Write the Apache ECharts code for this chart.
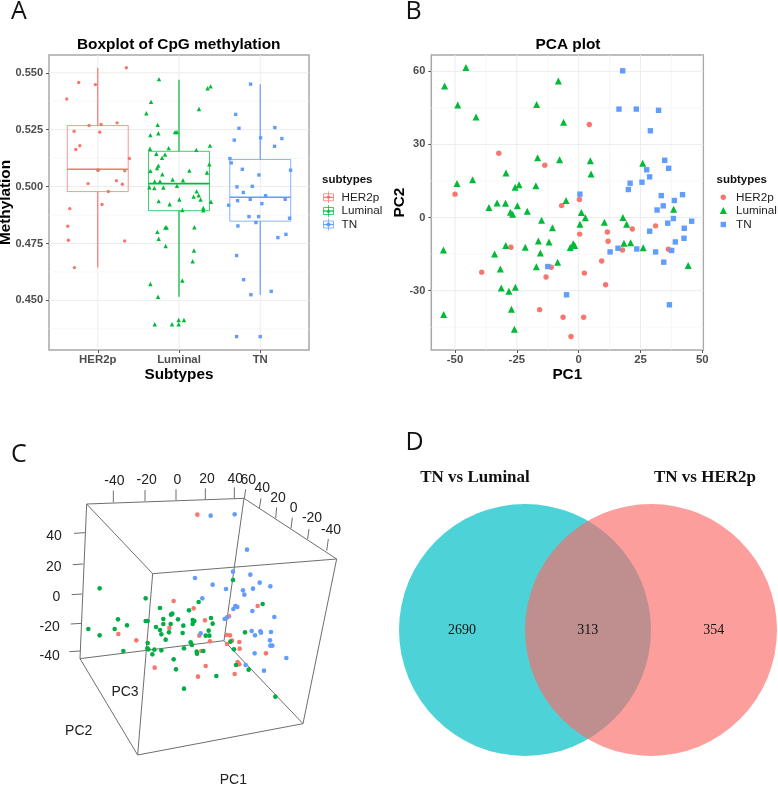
<!DOCTYPE html>
<html><head><meta charset="utf-8">
<style>html,body{margin:0;padding:0;background:#fff}#c{width:778px;height:786px}</style>
<script src="https://cdn.jsdelivr.net/npm/echarts@6/dist/echarts.min.js"></script>
</head><body><div id="c"></div>
<script>
const subtypes=['HER2p','Luminal','TN'];
const colors=['#F8766D','#00BA38','#619CFF'];
// Panel A
const boxStats=[[1,.4644,.4978,.5076,.5268,.5522],[2,.4516,.4894,.5013,.5155,.5469],[3,.4525,.4848,.4953,.5119,.5450]];
const aHer=[[1.352,.5522],[.766,.5457],[.971,.5448],[.619,.5385],[.709,.5243],[.893,.5268],[1.041,.5273],[1.238,.528],[1.025,.5239],[.779,.5179],[.73,.5163],[1.389,.5123],[1.008,.5073],[1,.5072],[1.332,.5069],[.881,.5013],[1.23,.5026],[1.303,.501],[1.131,.4978],[1.053,.4921],[.656,.4903],[.631,.4826],[.639,.4764],[1.332,.4761],[.713,.4644]];
const aLum=[[1.754,.5472],[2.389,.544],[2.352,.5432],[1.656,.5372],[2.246,.5341],[1.598,.5322],[1.738,.5271],[1.746,.5234],[1.648,.5226],[1.951,.5239],[1.975,.524],[1.643,.5166],[1.873,.5169],[2.213,.5161],[2.381,.518],[1.721,.5144],[1.828,.5141],[1.791,.5126],[1.746,.5092],[1.73,.5081],[1.648,.5069],[2.127,.507],[2.344,.5062],[2.373,.5098],[1.795,.5054],[1.922,.5031],[2.049,.5028],[1.701,.5022],[1.766,.5023],[1.635,.4997],[1.697,.4993],[1.807,.4996],[1.975,.5003],[2.217,.4979],[2.18,.4956],[2.242,.4962],[2.266,.4943],[2.004,.4943],[1.75,.4936],[1.885,.4922],[2.393,.4933],[2.299,.4906],[2.299,.4896],[2.041,.4897],[1.832,.482],[1.848,.482],[2.189,.4821],[1.734,.4801],[1.75,.4771],[1.836,.4739],[2.184,.4719],[2.168,.4672],[2.041,.4587],[1.648,.4572],[1.742,.4516],[1.996,.4414],[2.061,.4414],[1.701,.4395],[1.914,.4395],[1.996,.4395]];
const aTn=[[2.881,.545],[2.697,.5317],[2.738,.5256],[3.18,.5259],[2.68,.5204],[3.004,.5214],[3.266,.5211],[3.176,.5177],[2.627,.5123],[2.643,.5104],[2.779,.5076],[3.373,.5072],[2.984,.5051],[2.713,.4999],[2.902,.5001],[2.791,.4974],[3.066,.496],[2.877,.4944],[2.721,.4938],[3.307,.4944],[3.02,.4925],[2.611,.4918],[2.861,.4868],[2.98,.4868],[3.361,.4861],[2.947,.4842],[2.725,.4827],[3.316,.479],[3.217,.4776],[2.709,.4697],[2.795,.4591],[2.885,.4525],[3.135,.454],[2.709,.4341],[3,.4341]];
const aXTicks=[1,2,3];
const aYTicks=[.45,.475,.5,.525,.55];
const aYMinor=[.4375,.4625,.4875,.5125,.5375];
// Panel B
const bHer=[[4.3,38.2],[-32.3,26.4],[-13.7,21.5],[-50,9.6],[.3,7.4],[-6.9,4.9],[11.6,-5.9],[21.7,-4.7],[.4,-6.8],[11.9,-9.7],[31.1,-3.4],[-27.4,-12.2],[17.7,-13.3],[36.3,-13],[9.3,-17.8],[-39.2,-22.4],[-11.1,-20.4],[-13.2,-24.4],[2.3,-22.8],[10.9,-27.6],[-15.8,-37.8],[-6.3,-40.9],[2,-40.9],[-3.1,-48.8]];
const bLum=[[-45.6,61.6],[-54.2,54],[-8.2,56],[-48.9,46.2],[-17,46.4],[-41.5,41.3],[-6.1,39.1],[-16.6,24.5],[-7.7,23.7],[4.7,23.3],[25.9,22.3],[-29.4,18.3],[5,17.9],[-49.2,14],[-42.9,15.5],[-25.7,12.4],[-24.1,13.5],[-17.3,13],[-36.3,4.1],[-33,6],[-29.6,5.9],[-24.8,4.8],[-27.6,2.2],[-26.7,1.4],[-20.8,2.6],[-5.1,7],[1.1,2.1],[2.7,-.1],[.5,-2.7],[-15,-1.1],[-10.6,-4.2],[10.4,-1.9],[17.9,0],[19.4,-2.7],[38.4,3.4],[-16.3,-9.6],[-12,-10],[-29.5,-11.5],[-21.6,-12.2],[-2.2,-10.8],[-1.6,-11.5],[-3.4,-12.3],[18.3,-10.5],[21,-10.3],[26.1,-12.4],[-54.7,-13.3],[-34,-15],[-15.5,-14.5],[-8.5,-18.3],[-17.1,-20.2],[-31.7,-21.1],[44.3,-19.7],[-31.3,-28.9],[-25.6,-28.6],[-28.2,-30.2],[-27.2,-37.6],[-54.6,-39.8],[-26,-45.8]];
const bTn=[[17.8,60.2],[16.3,44.5],[23.3,44.5],[32.3,44],[29,35.6],[34.8,23.5],[36.4,20.2],[27.5,19.6],[28.7,16.7],[25.6,14.5],[20.8,14.1],[20.1,11.5],[.5,9.6],[42,9.4],[33.4,9],[38.7,7],[34.2,4.8],[31.7,3.1],[38.3,-.4],[45.7,-1.5],[36,-2.3],[42.7,-4.4],[28.7,-5.6],[39.1,-10],[42.6,-8.5],[23.5,-12.9],[15.9,-12.6],[12.7,-14.1],[31.1,-14.1],[37.6,-13.5],[34.4,-18.3],[-12.5,-20.1],[-4.9,-31.7],[36.7,-35.8]];
const bXTicks=[-50,-25,0,25,50];
const bXMinor=[-37.5,-12.5,12.5,37.5];
const bYTicks=[-30,0,30,60];
const bYMinor=[-45,-15,15,45];
// Panel C: points as projected by the 3D view (view units)
const cHer=[[592,284],[521,543],[581,565],[615,601],[508,624],[355,642],[409,661],[598,647],[687,589],[773,558],[680,645],[690,646],[696,662],[718,666],[630,664],[681,672],[719,686],[604,693],[798,700],[713,726],[718,733],[617,738],[464,743],[594,770],[704,762]];
const cTn=[[632,287],[704,283],[741,389],[699,455],[751,464],[585,474],[638,494],[779,488],[811,499],[759,506],[678,507],[729,511],[733,524],[607,535],[706,558],[712,561],[700,567],[757,573],[823,591],[681,592],[674,597],[602,640],[755,633],[781,634],[783,638],[765,646],[813,636],[810,661],[811,677],[817,677],[764,700],[859,714],[737,735],[792,752]];
const cLum=[[299,505],[437,535],[699,480],[596,546],[480,564],[567,571],[788,552],[517,581],[513,584],[490,597],[534,598],[437,603],[443,603],[354,598],[381,616],[490,612],[512,612],[578,600],[583,603],[578,612],[633,594],[638,611],[550,617],[468,621],[265,627],[344,627],[480,630],[507,637],[484,643],[548,639],[626,632],[617,647],[628,647],[299,646],[497,659],[443,669],[572,667],[576,675],[735,637],[691,665],[442,685],[463,689],[484,691],[552,685],[370,693],[457,703],[590,695],[610,693],[591,701],[702,688],[521,718],[708,735],[528,748],[746,749],[649,768],[552,806],[826,830],[445,688]];
const cCubeEdges=[[260,252,732,235],[732,235,1010,417],[1010,417,458,461],[458,461,260,252],[260,252,240,716],[240,716,413,1005],[413,1005,909,911],[909,911,1010,417],[458,461,413,1005],[732,235,672,662],[672,662,240,716],[672,662,909,911]];
const cTicks=[[340,247,340,212],[435,243,435,210],[528,240,528,208],[616,238,616,205],[703,235,703,202],[733,236,737,208],[778,265,783,235],[827,295,830,262],[873,325,877,293],[923,357,927,327],[980,392,985,357],[255,338,222,340],[250,432,218,434],[247,522,215,524],[244,610,212,612],[241,693,208,695]];
const cTickLabels=[[343,184,'-40'],[440,181,'-20'],[532,180,'0'],[621,178,'20'],[706,178,'40'],[745,180,'60'],[787,205,'40'],[834,233,'20'],[881,263,'0'],[936,293,'-20'],[993,329,'-40'],[162,348,'40'],[161,441,'20'],[169,532,'0'],[149,621,'-20'],[149,707,'-40'],[375,817,'PC3'],[236,933,'PC2'],[700,1080,'PC1']];
// Panel D
const vennSets=['TN vs Luminal','TN vs HER2p'];
const vennCounts=[2690,313,354];

const SANS='"Liberation Sans",Arial,sans-serif', SERIF='"Liberation Serif",serif';
function lineSeries(g,dir,vals,col,w){
  return {type:'custom',xAxisIndex:g,yAxisIndex:g,silent:true,z:1,clip:false,
    data:vals.map(v=>[v,v]),encode:{x:0,y:1},
    renderItem(p,api){const cs=p.coordSys;const c=api.coord([api.value(0),api.value(1)]);
      const s=dir==='x'?{x1:c[0],y1:cs.y,x2:c[0],y2:cs.y+cs.height}:{x1:cs.x,y1:c[1],x2:cs.x+cs.width,y2:c[1]};
      return {type:'line',shape:s,style:{stroke:col,lineWidth:w}};}};
}
function scatter(g,name,data,symbol,size,col,z){
  return {type:'scatter',name,xAxisIndex:g,yAxisIndex:g,data,symbol,symbolSize:size,silent:true,z:z||3,
    itemStyle:{color:col,opacity:1}};
}
function axisBase(pos,g,ticks,fmt,name,gap,min,max){
  return {type:'value',gridIndex:g,min,max,position:pos,
    axisLine:{show:false,onZero:false},splitLine:{show:false},
    axisTick:{show:true,length:3,customValues:ticks,lineStyle:{color:'#555',width:1}},
    axisLabel:{customValues:ticks,formatter:fmt,color:'#4d4d4d',fontWeight:'bold',fontSize:pos==='bottom'?11.4:11,fontFamily:SANS,margin:pos==='bottom'?4:6,hideOverlap:false},
    name,nameLocation:'middle',nameGap:gap,nameMoveOverlap:false,nameTextStyle:{color:'#000',fontWeight:'bold',fontSize:15.3,fontFamily:SANS}};
}
const hidden=(g,min,max,inv)=>({type:'value',gridIndex:g,min,max,show:false,inverse:!!inv,splitLine:{show:false}});

const series=[];
// A
series.push(lineSeries(0,'y',aYMinor,'#f4f4f4',.7),lineSeries(0,'y',aYTicks,'#ececec',1),lineSeries(0,'x',aXTicks,'#ececec',1));
series.push({type:'custom',xAxisIndex:0,yAxisIndex:0,silent:true,z:2,data:boxStats,encode:{x:0,y:[1,2,3,4,5]},
  renderItem(p,api){const i=api.value(0),col=colors[i-1],hw=.375;
    const P=(x,y)=>api.coord([x,y]);
    const mn=api.value(1),q1=api.value(2),md=api.value(3),q3=api.value(4),mx=api.value(5);
    const a=P(i-hw,q3),b=P(i+hw,q1);
    const ln=(u,v,w,o)=>({type:'line',shape:{x1:u[0],y1:u[1],x2:v[0],y2:v[1]},style:{stroke:col,lineWidth:w,opacity:o}});
    return {type:'group',children:[
      ln(P(i,q3),P(i,mx),1.2,1),ln(P(i,q1),P(i,mn),1.2,1),
      {type:'rect',shape:{x:a[0],y:a[1],width:b[0]-a[0],height:b[1]-a[1]},style:{fill:'none',stroke:col,lineWidth:1,opacity:.75}},
      ln(P(i-hw,md),P(i+hw,md),1.6,1)]};}});
series.push(scatter(0,'HER2p',aHer,'circle',3.4,colors[0]),scatter(0,'Luminal',aLum,'triangle',4.4,colors[1]),scatter(0,'TN',aTn,'rect',3.4,colors[2]));
// B
series.push(lineSeries(1,'y',bYMinor,'#f4f4f4',.7),lineSeries(1,'x',bXMinor,'#f4f4f4',.7),lineSeries(1,'y',bYTicks,'#ececec',1),lineSeries(1,'x',bXTicks,'#ececec',1));
series.push(scatter(1,'HER2p',bHer,'circle',5.4,colors[0],3),scatter(1,'Luminal',bLum,'triangle',7,colors[1],4),scatter(1,'TN',bTn,'rect',5.4,colors[2],5));
// C
const segs=(arr,col,w)=>({type:'custom',xAxisIndex:2,yAxisIndex:2,silent:true,z:2,clip:false,data:arr,encode:{x:[0,2],y:[1,3]},
  renderItem(p,api){const a=api.coord([api.value(0),api.value(1)]),b=api.coord([api.value(2),api.value(3)]);
    return {type:'line',shape:{x1:a[0],y1:a[1],x2:b[0],y2:b[1]},style:{stroke:col,lineWidth:w}};}});
series.push(segs(cCubeEdges,'#6e6e6e',1),segs(cTicks,'#6e6e6e',1));
series.push({type:'custom',xAxisIndex:2,yAxisIndex:2,silent:true,z:4,clip:false,data:cTickLabels,encode:{x:0,y:1},
  renderItem(p,api){const c=api.coord([api.value(0),api.value(1)]);
    return {type:'text',x:c[0],y:c[1],style:{text:String(cTickLabels[p.dataIndex][2]),align:'center',verticalAlign:'middle',font:'14px '+SANS,fill:'#222'}};}});
series.push(scatter(2,'HER2p',cHer,'circle',4.6,colors[0]),scatter(2,'TN',cTn,'circle',4.6,colors[2]),scatter(2,'Luminal',cLum,'circle',4.6,'#00AD45'));
// D: layout of the two-set diagram, in px of the panel
const vennLayout=[[145,210,126,'#4DD3D7',1],[271,210,126,'rgb(250,106,103)',.65]];
series.push({type:'custom',xAxisIndex:3,yAxisIndex:3,silent:true,z:2,clip:false,data:vennLayout.map(r=>r.slice(0,3)),encode:{x:0,y:1},
  renderItem(p,api){const c=api.coord([api.value(0),api.value(1)]),r=api.size([api.value(2),0])[0],s=vennLayout[p.dataIndex];
    return {type:'circle',shape:{cx:c[0],cy:c[1],r},style:{fill:s[3],opacity:s[4]}};}});
const vennText=[[82,210,String(vennCounts[0]),'14px '],[207.7,210,String(vennCounts[1]),'14px '],[333.7,210,String(vennCounts[2]),'14px '],
  [95,58,vennSets[0],'bold 17px '],[325,58,vennSets[1],'bold 17px ']];
series.push({type:'custom',xAxisIndex:3,yAxisIndex:3,silent:true,z:4,clip:false,data:vennText.map(r=>r.slice(0,2)),encode:{x:0,y:1},
  renderItem(p,api){const c=api.coord([api.value(0),api.value(1)]),s=vennText[p.dataIndex];
    return {type:'text',x:c[0],y:c[1],style:{text:s[2],align:'center',verticalAlign:'middle',font:s[3]+SERIF,fill:'#111'}};}});

// Legends & letters
const g=[];
const txt=(x,y,text,font,fill,align)=>({type:'text',silent:true,x,y,style:{text,font,fill:fill||'#111',align:align||'left',verticalAlign:'middle'}});
[['A',11,12],['B',405.5,12],['C',11,455],['D',405.5,443]].forEach(l=>g.push(txt(l[1],l[2],l[0],'25px "Open Sans"','#111')));
g.push(txt(322,180,'subtypes','bold 11.5px '+SANS,'#111'),txt(716.5,180,'subtypes','bold 11.5px '+SANS,'#111'));
const ky=[197.3,211,224.5];
subtypes.forEach((s,i)=>{
  const y=ky[i],c=colors[i];
  g.push({type:'rect',silent:true,shape:{x:323.5,y:y-3.5,width:10,height:7},style:{fill:'none',stroke:c,lineWidth:1,opacity:.75}});
  g.push({type:'line',silent:true,shape:{x1:328.5,y1:y-6,x2:328.5,y2:y+6},style:{stroke:c,lineWidth:1,opacity:.7}});
  g.push({type:'line',silent:true,shape:{x1:323.5,y1:y,x2:333.5,y2:y},style:{stroke:c,lineWidth:1.2}});
  const m=(x,sz)=>i===0?{type:'circle',silent:true,shape:{cx:x,cy:y,r:sz/2},style:{fill:c}}:
     i===2?{type:'rect',silent:true,shape:{x:x-sz/2,y:y-sz/2,width:sz,height:sz},style:{fill:c}}:
     {type:'polygon',silent:true,shape:{points:[[x,y-sz*.6],[x+sz*.55,y+sz*.45],[x-sz*.55,y+sz*.45]]},style:{fill:c}};
  g.push(m(328.5,3.4));
  g.push(txt(341.5,y,s,'11.7px '+SANS,'#222'));
  g.push(m(723.3,i===1?6.5:5.4));
  g.push(txt(736,y,s,'11.7px '+SANS,'#222'));
});

const OB={outerBoundsMode:'none'};
const option={animation:false,backgroundColor:'#fff',
 title:[
  {text:'Boxplot of CpG methylation',left:77,top:37,padding:0,textStyle:{fontFamily:SANS,fontWeight:'bold',fontSize:15.4,color:'#000'}},
  {text:'PCA plot',left:535.5,top:37,padding:0,textStyle:{fontFamily:SANS,fontWeight:'bold',fontSize:15.4,color:'#000'}}],
 grid:[
  {...OB,left:49,top:55,width:260,height:295,show:true,borderColor:'#a8a8a8',borderWidth:1.5,backgroundColor:'#fff'},
  {...OB,left:431.3,top:55,width:272,height:295,show:true,borderColor:'#a8a8a8',borderWidth:1.5,backgroundColor:'#fff'},
  {...OB,left:0,top:420,width:370,height:366},
  {...OB,left:380,top:420,width:398,height:366}],
 xAxis:[
  axisBase('bottom',0,aXTicks,v=>subtypes[Math.round(v)-1]||'','Subtypes',17,.4,3.6),
  axisBase('bottom',1,bXTicks,v=>String(v),'PC1',17,-59.6,50.4),
  hidden(2,0,1110),hidden(3,0,398)],
 yAxis:[
  axisBase('left',0,aYTicks,v=>v.toFixed(3),'Methylation',36,.4282,.5578),
  axisBase('left',1,bYTicks,v=>String(v),'PC2',24,-54.35,66.7),
  hidden(2,0,1098,true),hidden(3,0,366,true)],
 series,graphic:{elements:g}};
echarts.init(document.getElementById('c'),null,{renderer:'canvas'}).setOption(option);
</script></body></html>
